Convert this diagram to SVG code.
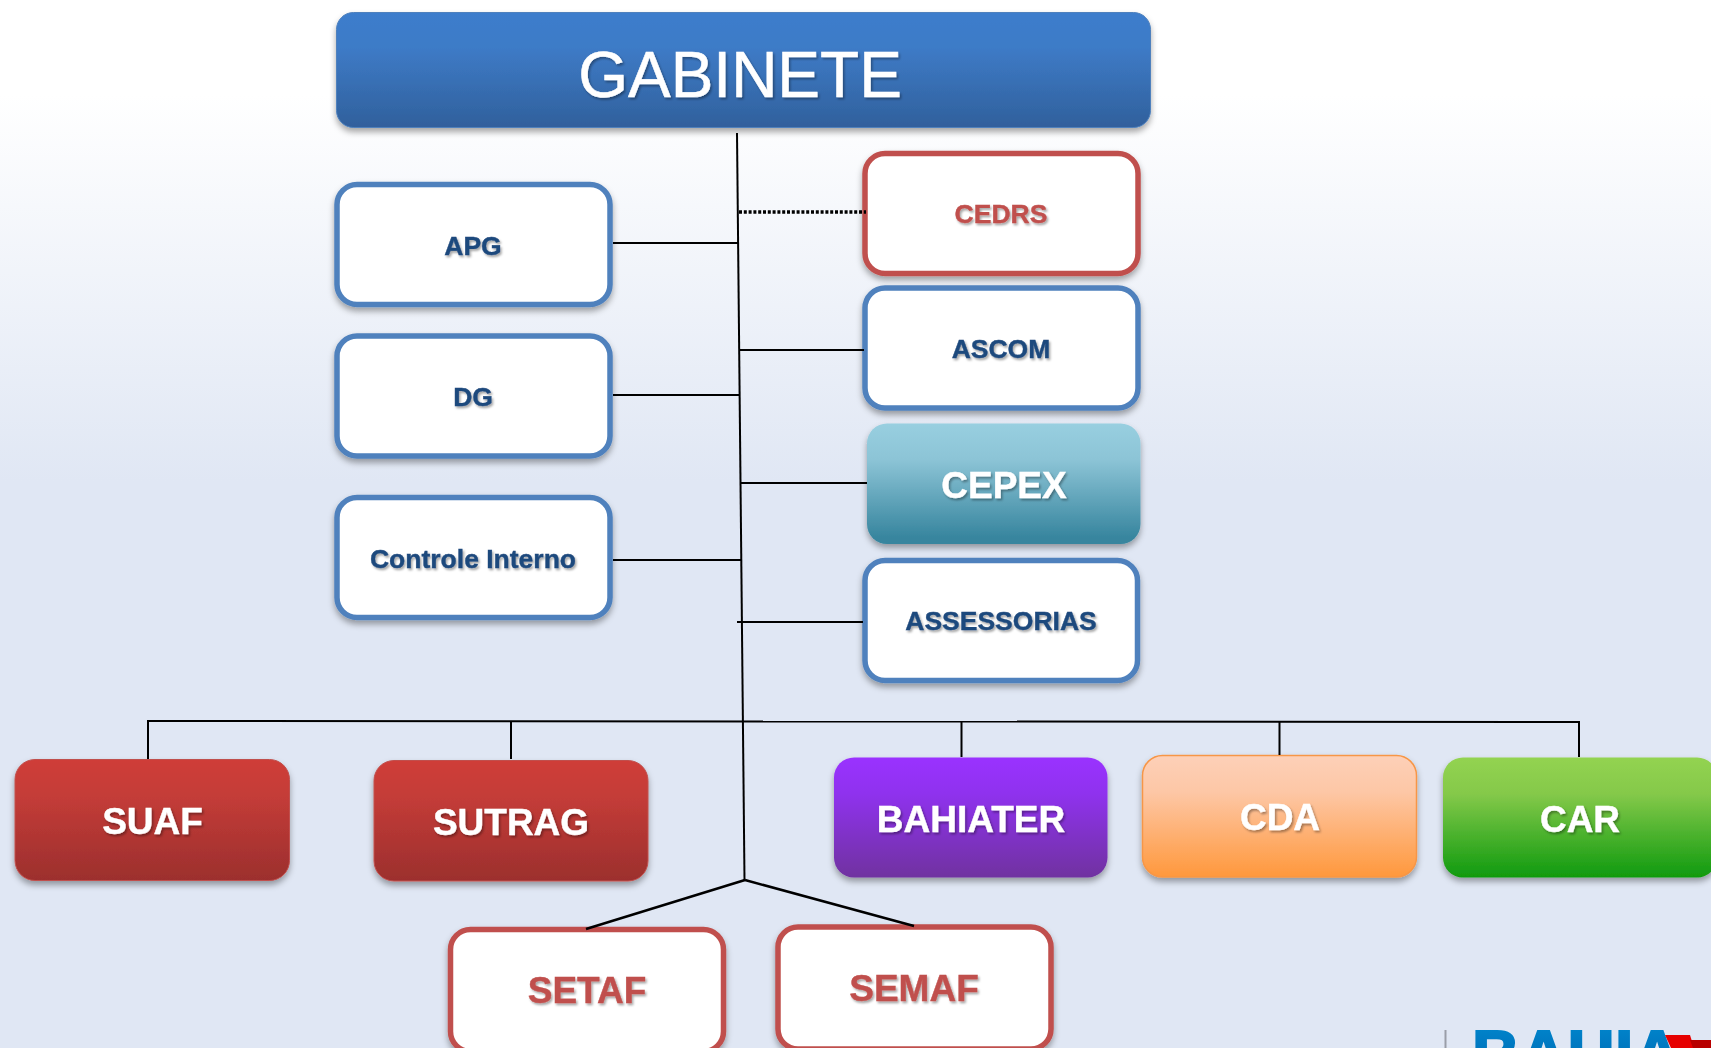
<svg xmlns="http://www.w3.org/2000/svg" width="1711" height="1048" viewBox="0 0 1711 1048">
<style>
.t{font-family:"Liberation Sans",Arial,sans-serif;font-weight:700;text-anchor:middle;filter:url(#ts)}
.b{font-size:26.500px;fill:#1f497d;stroke:#1f497d;stroke-width:.4}
.r{font-size:26.500px;fill:#c0504d;stroke:#c0504d;stroke-width:.4}
.w{font-size:37px;fill:#fff;stroke:#fff;stroke-width:.4}
.boxb{fill:#fff;stroke:#4f81bd;stroke-width:5.5;filter:url(#sh)}
.boxr{fill:#fff;stroke:#c0504d;stroke-width:5.5;filter:url(#sh)}
.solid{filter:url(#sh)}
#connectors line{stroke:#000;stroke-width:2;fill:none}
</style>
<defs>
<linearGradient id="bg" x1="0" y1="0" x2="0" y2="1"><stop offset="0" stop-color="#fff"/><stop offset=".09" stop-color="#fff"/><stop offset=".46" stop-color="#e0e7f4"/><stop offset="1" stop-color="#e0e7f4"/></linearGradient>
<linearGradient id="gb" x1="0" y1="0" x2="0" y2="1"><stop offset="0" stop-color="#3d7dcc"/><stop offset=".3" stop-color="#3e7bc7"/><stop offset="1" stop-color="#30609c"/></linearGradient>
<linearGradient id="gr" x1="0" y1="0" x2="0" y2="1"><stop offset="0" stop-color="#cf3e39"/><stop offset=".3" stop-color="#c43c38"/><stop offset="1" stop-color="#9c2f2d"/></linearGradient>
<linearGradient id="gc" x1="0" y1="0" x2="0" y2="1"><stop offset="0" stop-color="#98cfe0"/><stop offset=".3" stop-color="#8cc4d6"/><stop offset=".95" stop-color="#37859e"/></linearGradient>
<linearGradient id="gp" x1="0" y1="0" x2="0" y2="1"><stop offset="0" stop-color="#9a33ff"/><stop offset=".3" stop-color="#8f33ee"/><stop offset="1" stop-color="#7030a0"/></linearGradient>
<linearGradient id="go" x1="0" y1="0" x2="0" y2="1"><stop offset="0" stop-color="#fdd0b8"/><stop offset=".3" stop-color="#fdc7a6"/><stop offset="1" stop-color="#ff983c"/></linearGradient>
<linearGradient id="gg" x1="0" y1="0" x2="0" y2="1"><stop offset="0" stop-color="#93d351"/><stop offset=".3" stop-color="#85c94a"/><stop offset="1" stop-color="#0f9a0f"/></linearGradient>
<linearGradient id="gl" x1="0" y1="0" x2="0" y2="1"><stop offset="0" stop-color="#0089d0"/><stop offset="1" stop-color="#005fa8"/></linearGradient>
<filter id="sh" x="-10%" y="-10%" width="120%" height="125%"><feDropShadow dx="0" dy="4" stdDeviation="3" flood-color="#000" flood-opacity=".35"/></filter>
<filter id="ts" x="-10%" y="-20%" width="120%" height="150%"><feDropShadow dx="1.5" dy="2" stdDeviation="1" flood-color="#000" flood-opacity=".35"/></filter>
</defs>
<rect id="background" width="1711" height="1048" fill="url(#bg)"/>
<g id="gabinete"><rect class="solid" x="336.500" y="12.500" width="814" height="115" rx="17" fill="url(#gb)" stroke="#4f81bd" stroke-width="1"/><text class="t" x="740" y="96.500" style="font-size:64px;font-weight:400;fill:#fff;stroke:#fff;stroke-width:.5">GABINETE</text></g>
<g id="apg"><rect class="boxb" x="337" y="184.500" width="273" height="120" rx="20"/><text class="t b" x="473" y="254.500">APG</text></g>
<g id="dg"><rect class="boxb" x="337" y="336" width="273" height="120" rx="20"/><text class="t b" x="473" y="405.500">DG</text></g>
<g id="controle"><rect class="boxb" x="337" y="497.500" width="273" height="120" rx="20"/><text class="t b" x="473" y="568">Controle Interno</text></g>
<g id="cedrs"><rect class="boxr" x="865" y="153.500" width="273" height="120" rx="20"/><text class="t r" x="1001" y="223">CEDRS</text></g>
<g id="ascom"><rect class="boxb" x="865" y="288" width="273" height="120" rx="20"/><text class="t b" x="1001" y="358">ASCOM</text></g>
<g id="cepex"><rect class="solid" x="867" y="423.500" width="273.500" height="120.500" rx="20" fill="url(#gc)"/><text class="t w" x="1004" y="497.500">CEPEX</text></g>
<g id="assessorias"><rect class="boxb" x="865" y="560.500" width="272.500" height="120" rx="20"/><text class="t b" x="1001" y="629.500">ASSESSORIAS</text></g>
<g id="suaf"><rect class="solid" x="15" y="759.500" width="274.500" height="121" rx="20" fill="url(#gr)" stroke="#c0504d" stroke-width="1"/><text class="t w" x="152.500" y="834">SUAF</text></g>
<g id="sutrag"><rect class="solid" x="374" y="760.500" width="274" height="120.500" rx="20" fill="url(#gr)" stroke="#c0504d" stroke-width="1"/><text class="t w" x="511" y="835">SUTRAG</text></g>
<g id="bahiater"><rect class="solid" x="834" y="757.500" width="273.500" height="120" rx="20" fill="url(#gp)"/><text class="t w" x="971" y="832">BAHIATER</text></g>
<g id="cda"><rect class="solid" x="1142.500" y="755.500" width="274" height="121.500" rx="20" fill="url(#go)" stroke="#f79646" stroke-width="1.500"/><text class="t w" x="1280" y="830">CDA</text></g>
<g id="car"><rect class="solid" x="1443" y="757.500" width="274" height="120" rx="20" fill="url(#gg)"/><text class="t w" x="1580" y="832">CAR</text></g>
<g id="setaf"><rect class="boxr" x="450.500" y="929.500" width="273" height="122" rx="20"/><text class="t w" x="587" y="1002.500" style="fill:#c0504d;stroke:#c0504d">SETAF</text></g>
<g id="semaf"><rect class="boxr" x="778" y="927" width="273" height="122" rx="20"/><text class="t w" x="914" y="1000.500" style="fill:#c0504d;stroke:#c0504d">SEMAF</text></g>
<g id="connectors">
<line x1="737" y1="133" x2="744.500" y2="880"/>
<line x1="739" y1="212" x2="866" y2="212" style="stroke-width:3.500;stroke-dasharray:3 1.800"/>
<line x1="613" y1="243" x2="738" y2="243"/>
<line x1="740" y1="350" x2="864" y2="350"/>
<line x1="613" y1="395" x2="740" y2="395"/>
<line x1="741" y1="483" x2="867" y2="483"/>
<line x1="613" y1="560" x2="741" y2="560"/>
<line x1="737" y1="622" x2="863" y2="622"/>
<line x1="147" y1="721" x2="1580" y2="722"/>
<line x1="148" y1="720" x2="148" y2="759"/>
<line x1="511" y1="722" x2="511" y2="759"/>
<line x1="961.500" y1="721" x2="961.500" y2="757"/>
<line x1="1279.500" y1="721" x2="1279.500" y2="755"/>
<line x1="1579" y1="721" x2="1579" y2="757"/>
<line x1="745" y1="880" x2="586" y2="929" style="stroke-width:2.500"/>
<line x1="745" y1="880" x2="914" y2="926" style="stroke-width:2.500"/>
</g>
<g id="logo">
<rect x="1444.500" y="1030" width="2" height="18" fill="#9a9ea8"/>
<text x="1472" y="1077" style="font-family:'Liberation Sans',Arial,sans-serif;font-weight:700;font-size:66px;fill:url(#gl);stroke:url(#gl);stroke-width:2">BAHIA</text>
<polygon points="1665,1035 1690,1035 1694,1048 1671,1048" fill="#e60000"/>
<polygon points="1690,1040 1711,1040 1711,1048 1693,1048" fill="#b80000"/>
</g>
</svg>
